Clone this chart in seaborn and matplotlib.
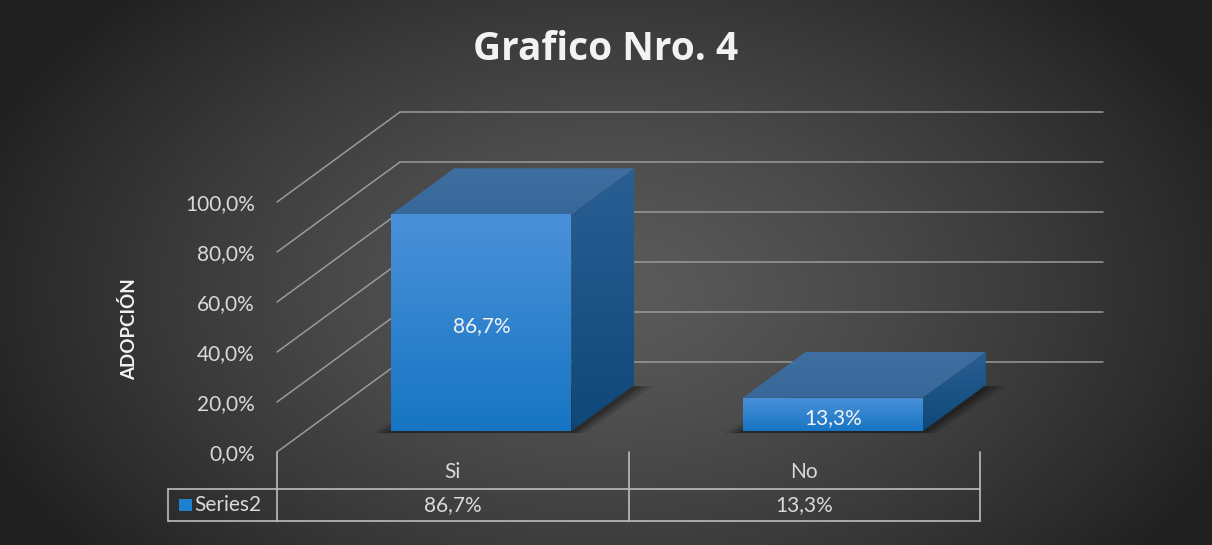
import numpy as np
import matplotlib.pyplot as plt
import matplotlib.colors as mcolors
from matplotlib.patches import Polygon
import seaborn as sns

# chart data
categories = ["Si", "No"]
values = [86.7, 13.3]
series_name = "Series2"
y_ticks = [0, 20, 40, 60, 80, 100]
title = "Grafico Nro. 4"
y_label = "ADOPCIÓN"


def pct(v):
    return f"{v:.1f}%".replace(".", ",")


sns.set_theme(style="white")
plt.rcParams["font.family"] = ["Lato", "DejaVu Sans"]

W, H = 1212, 545
fig = plt.figure(figsize=(W / 100, H / 100), dpi=100)

# dark radial background
bg = fig.add_axes([0, 0, 1, 1])
bg.axis("off")
bg.set_zorder(-10)
yy, xx = np.mgrid[0:H, 0:W]
r = np.sqrt(((xx - 610) / 680) ** 2 + ((yy - 290) / 430) ** 2)
shade = np.clip(0.355 - 0.23 * r ** 1.3, 0.13, 1)
bg.imshow(np.dstack([shade] * 3), aspect="auto", extent=(0, 1, 0, 1))

# front plane of the 3d box
ax = fig.add_axes([277 / W, (H - 452) / H, 703 / W, 250 / H])
ax.patch.set_alpha(0)

sns.barplot(x=categories, y=values, width=0.512, color="#1f7fd0",
            saturation=1, linewidth=0, ax=ax, zorder=4)

# oblique depth (full depth in data units), bars sit between d0 and d1
DX, DY = 0.35, 36.0
d0, d1 = 0.233, 0.744
grid_col = "#9a9a9a"
fs = 15


def grad_fill(verts, top, bottom, z):
    poly = Polygon(verts, closed=True, facecolor="none", edgecolor="none",
                   zorder=z, clip_on=False)
    ax.add_patch(poly)
    xs, ys = zip(*verts)
    cmap = mcolors.LinearSegmentedColormap.from_list("g", [bottom, top])
    im = ax.imshow(np.linspace(0, 1, 256).reshape(-1, 1), cmap=cmap,
                   origin="lower", aspect="auto", interpolation="bicubic",
                   extent=(min(xs), max(xs), min(ys), max(ys)), zorder=z)
    im.set_clip_path(poly)
    im.set_clip_box(fig.bbox)


# gridlines: diagonal on the left wall, horizontal on the back wall
for t in y_ticks:
    ax.plot([-0.5, -0.5 + DX], [t, t + DY], color=grid_col, lw=1.1,
            clip_on=False, zorder=1)
    ax.plot([-0.5 + DX, 1.5 + DX], [t + DY, t + DY], color=grid_col, lw=1.1,
            clip_on=False, zorder=1)

# turn flat bars into boxes
for i, bar in enumerate(ax.patches):
    x0 = bar.get_x() + d0 * DX
    w = bar.get_width()
    h = bar.get_height()
    y0 = d0 * DY
    bar.set_x(x0)
    bar.set_y(y0)
    x1 = x0 + w
    ddx, ddy = (d1 - d0) * DX, (d1 - d0) * DY

    # soft shadow on the floor
    for k, a in enumerate([0.12, 0.16, 0.22]):
        e = 0.012 * (3 - k)
        shadow = Polygon([(x0 - e * 1.5, y0 - 0.8), (x1 + e, y0 - 0.8),
                          (x1 + ddx + e * 1.5, y0 + ddy - 0.5), (x0 + ddx, y0 + ddy - 0.5)],
                         closed=True, facecolor="black", alpha=a, edgecolor="none",
                         zorder=2, clip_on=False)
        ax.add_patch(shadow)

    grad_fill([(x0, y0), (x1, y0), (x1, y0 + h), (x0, y0 + h)],
              "#4b91d9", "#1675c3", 5)
    grad_fill([(x1, y0), (x1 + ddx, y0 + ddy), (x1 + ddx, y0 + ddy + h),
               (x1, y0 + h)], "#2a5f94", "#0e4878", 5)
    grad_fill([(x0, y0 + h), (x1, y0 + h), (x1 + ddx, y0 + ddy + h),
               (x0 + ddx, y0 + ddy + h)], "#3f6fa2", "#386899", 5)

    ax.text(x0 + w / 2, y0 + h / 2 - 1.5, pct(values[i]), ha="center", va="center",
            color="#f2f2f2", fontsize=fs, zorder=6)

ax.set_xlim(-0.5, 1.5)
ax.set_ylim(0, 100)
ax.set_yticks(y_ticks)
ax.set_yticklabels([pct(t) for t in y_ticks])
ax.tick_params(axis="y", length=0, pad=16, labelsize=fs, labelcolor="#d9d9d9")
ax.tick_params(axis="x", length=0, pad=7, labelsize=fs, labelcolor="#d9d9d9")
ax.set_xlabel("")
ax.set_ylabel(y_label, fontsize=13.5, fontweight="bold", color="#f2f2f2")
ax.yaxis.set_label_coords(-0.197, 0.49)
for s in ax.spines.values():
    s.set_visible(False)

# data table under the axis
tcol = "#bdbdbd"
row1, row2 = (452 - 489) / 2.5, (452 - 521) / 2.5
xleft = (168 - 277) / 351.5 - 0.5
for xv in [-0.5, 0.5, 1.5]:
    ax.plot([xv, xv], [0, row2], color=tcol, lw=1.2, clip_on=False, zorder=1)
ax.plot([xleft, xleft], [row1, row2], color=tcol, lw=1.2, clip_on=False)
for yv in [row1, row2]:
    ax.plot([xleft, 1.5], [yv, yv], color=tcol, lw=1.2, clip_on=False)
ymid = (row1 + row2) / 2
for i, v in enumerate(values):
    ax.text(i, ymid, pct(v), ha="center", va="center", color="#d9d9d9",
            fontsize=fs, clip_on=False)
key_x = (185.5 - 277) / 351.5 - 0.5
ax.scatter([key_x], [ymid], marker="s", s=75, color="#1f7fd0", clip_on=False,
           edgecolors="none")
ax.text((194 - 277) / 351.5 - 0.5, ymid, series_name, ha="left", va="center",
        color="#d9d9d9", fontsize=fs, clip_on=False)

fig.text(0.5, 1 - 50 / H, title, ha="center", va="center", fontsize=28,
         fontweight="bold", color="#f2f2f2", family=["Open Sans", "DejaVu Sans"])

fig.savefig("out.png", dpi=100)
